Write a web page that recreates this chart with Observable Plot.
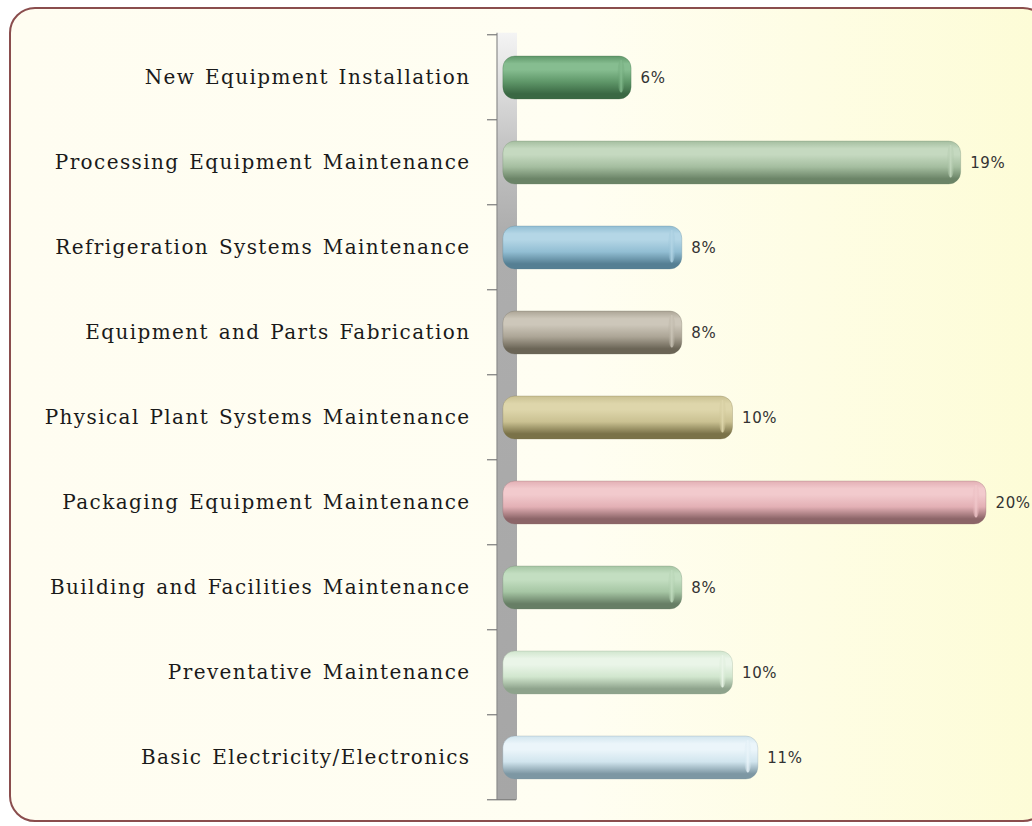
<!DOCTYPE html>
<html><head><meta charset="utf-8">
<script src="https://cdn.jsdelivr.net/npm/d3@7"></script>
<script src="https://cdn.jsdelivr.net/npm/@observablehq/plot@0.6"></script>
<style>
html,body{margin:0;padding:0;background:#fff;}
#wrap{position:relative;width:1032px;height:826px;overflow:hidden;background:#fff;}
#panel{position:absolute;left:9px;top:7px;width:1040px;height:815px;box-sizing:border-box;border:2px solid #8a4d4d;border-radius:26px;background:linear-gradient(to right,#fffdf1 0%,#fffef2 55%,#fdfcd6 100%);}
#chart{position:absolute;left:0;top:0;}
#chart svg{background:transparent !important;}
</style></head>
<body><div id="wrap"><div id="panel"></div>
<svg width="0" height="0" style="position:absolute"><defs id="defs"></defs></svg>
<div id="chart"></div></div>
<script>
// ---- data ----
const categories = [
  "New Equipment Installation",
  "Processing Equipment Maintenance",
  "Refrigeration Systems Maintenance",
  "Equipment and Parts Fabrication",
  "Physical Plant Systems Maintenance",
  "Packaging Equipment Maintenance",
  "Building and Facilities Maintenance",
  "Preventative Maintenance",
  "Basic Electricity/Electronics"
];
const values = [6, 19, 8, 8, 10, 20, 8, 10, 11];

// ---- styles ----
const lightColors = ["#86bd90","#c5d9c0","#b4d6e6","#cdc7ba","#ded6ab","#f2cacd","#c3dec1","#eaf5e8","#ebf5fa"];
const midColors   = ["#5f9769","#a5bea0","#92bed3","#aca596","#cac192","#e3b0b5","#a6c6a4","#d1e6ce","#d1e5ee"];
const darkColors  = ["#3a6843","#6b8467","#557f93","#6b6556","#7a7248","#8c6568","#677e65","#8ea38c","#7d97a3"];

const data = categories.map((c, i) => ({category: c, value: values[i], i}));

// gradients
const defs = d3.select("#defs");
categories.forEach((c, i) => {
  const g = defs.append("linearGradient").attr("id", "bar" + i)
    .attr("x1", 0).attr("y1", 0).attr("x2", 0).attr("y2", 1);
  [[0, midColors[i]], [0.18, lightColors[i]], [0.32, lightColors[i]], [0.6, midColors[i]], [0.88, darkColors[i]], [1, darkColors[i]]]
    .forEach(([o, col]) => g.append("stop").attr("offset", o).attr("stop-color", col));
  const h = defs.append("linearGradient").attr("id", "cap" + i)
    .attr("x1", 0).attr("y1", 0).attr("x2", 1).attr("y2", 0);
  [[0, midColors[i], 0], [0.5, lightColors[i], 0.9], [1, midColors[i], 0]]
    .forEach(([o, col, op]) => h.append("stop").attr("offset", o).attr("stop-color", col).attr("stop-opacity", op));
});
const wg = defs.append("linearGradient").attr("id", "wall").attr("x1", 0).attr("y1", 0).attr("x2", 0).attr("y2", 1);
[[0, "#f4f4f4"], [0.05, "#e4e4e4"], [0.14, "#c6c6c6"], [0.26, "#adadad"], [1, "#a6a6a6"]]
  .forEach(([o, col]) => wg.append("stop").attr("offset", o).attr("stop-color", col));

const barBase = 0.94;

function wallMark(index, scales) {
  const {x, y} = scales;
  const step = y(categories[1]) - y(categories[0]);
  const bw = step * 0.5;
  const bounds = categories.map(c => y(c) - step * 0.25);
  bounds.push(y(categories[categories.length - 1]) + bw + step * 0.25);
  const x0 = x(0);
  const g = d3.create("svg:g");
  const top = bounds[0] - 2, bottom = bounds[bounds.length - 1];
  g.append("rect").attr("x", x0 + 18).attr("y", top).attr("width", 20).attr("height", bottom - top)
    .attr("fill", "url(#wall)");
  g.append("line").attr("x1", x0 + 18).attr("x2", x0 + 18).attr("y1", top).attr("y2", bottom)
    .attr("stroke", "#8c8c8c").attr("stroke-width", 1.2);
  bounds.forEach((b, k) => {
    g.append("line").attr("x1", x0 + 8).attr("x2", k === bounds.length - 1 ? x0 + 37 : x0 + 18)
      .attr("y1", b).attr("y2", b).attr("stroke", "#7a7a7a").attr("stroke-width", 1.2);
  });
  return g.node();
}

const barMarks = data.map(d => Plot.barX([d], {
  y: "category", x1: () => barBase, x2: "value",
  fill: `url(#bar${d.i})`, rx: 12, stroke: darkColors[d.i], strokeOpacity: 0.35, strokeWidth: 0.8
}));

function capMark(index, scales) {
  const {x, y} = scales;
  const step = y(categories[1]) - y(categories[0]);
  const bw = step * 0.5;
  const g = d3.create("svg:g");
  data.forEach(d => {
    const xe = x(d.value), yc = y(d.category) + bw / 2;
    g.append("ellipse").attr("cx", xe - 10).attr("cy", yc - 1).attr("rx", 4).attr("ry", bw / 2 - 5)
      .attr("fill", `url(#cap${d.i})`);
  });
  return g.node();
}

const chart = Plot.plot({
  width: 1032, height: 826,
  marginLeft: 479, marginRight: 46, marginTop: 32, marginBottom: 23,
  style: {fontFamily: "'DejaVu Serif', serif", fontSize: "20px", color: "#1a1a1a", background: "transparent"},
  x: {domain: [0, 20], axis: null},
  y: {domain: categories, paddingInner: 0.5, paddingOuter: 0.25, tickSize: 0, tickPadding: 9, label: null},
  marks: [
    wallMark,
    ...barMarks,
    capMark,
    Plot.text(data, {
      x: "value", y: "category", text: d => d.value + "%", dx: 9, textAnchor: "start",
      fontFamily: "'DejaVu Sans', sans-serif", fontSize: 15, fill: "#333"
    })
  ]
});
// widen the serif category labels (the reference's font is broad)
d3.select(chart).selectAll("text")
  .filter(function() { return !/%$/.test(this.textContent); })
  .style("letter-spacing", "1.4px").style("word-spacing", "2px");
d3.select(chart).selectAll("text")
  .filter(function() { return /%$/.test(this.textContent); })
  .style("letter-spacing", "0.6px");
document.getElementById("chart").appendChild(chart);
</script>
</body></html>
